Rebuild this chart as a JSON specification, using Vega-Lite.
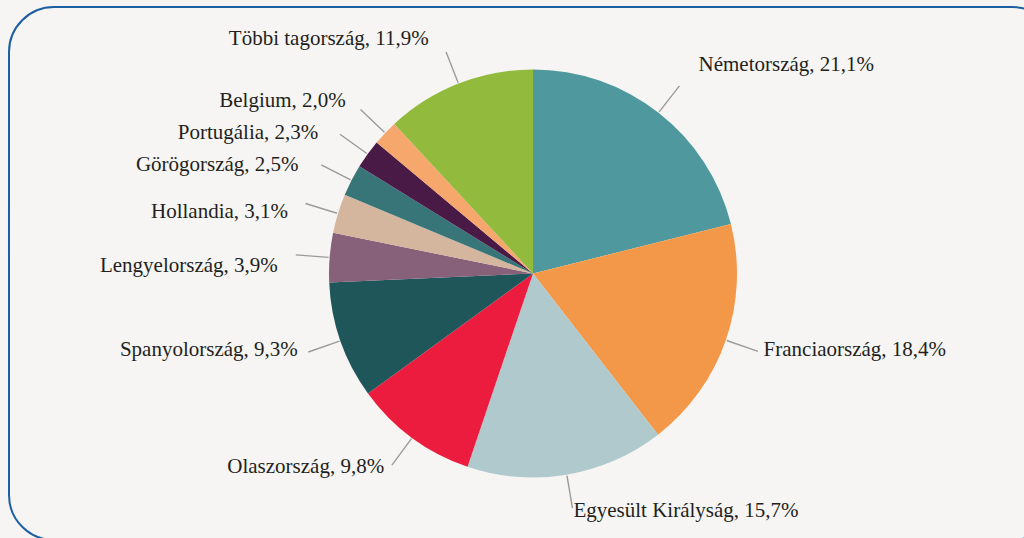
{
  "$schema": "https://vega.github.io/schema/vega-lite/v6.json",
  "autosize": {"type": "none"},
  "width": 1048,
  "height": 533,
  "padding": {"left": 9, "top": 7, "right": -33, "bottom": -2},
  "background": "#f6f5f3",
  "view": {"style": "cell", "stroke": "#1c5fa2", "strokeWidth": 2, "cornerRadius": 45, "fill": "#f6f5f3"},
  "config": {
    "style": {"cell": {"stroke": "#1c5fa2", "strokeWidth": 2, "cornerRadius": 45, "fill": "#f6f5f3"}},
    "text": {"font": "Liberation Serif", "fontSize": 21, "fill": "#231f20"}
  },
  "data": {
    "values": [
      {"orszag": "Németország", "ertek": 21.1, "sorrend": 1, "label": "Németország, 21,1%"},
      {"orszag": "Franciaország", "ertek": 18.4, "sorrend": 2, "label": "Franciaország, 18,4%"},
      {"orszag": "Egyesült Királyság", "ertek": 15.7, "sorrend": 3, "label": "Egyesült Királyság, 15,7%"},
      {"orszag": "Olaszország", "ertek": 9.8, "sorrend": 4, "label": "Olaszország, 9,8%"},
      {"orszag": "Spanyolország", "ertek": 9.3, "sorrend": 5, "label": "Spanyolország, 9,3%"},
      {"orszag": "Lengyelország", "ertek": 3.9, "sorrend": 6, "label": "Lengyelország, 3,9%"},
      {"orszag": "Hollandia", "ertek": 3.1, "sorrend": 7, "label": "Hollandia, 3,1%"},
      {"orszag": "Görögország", "ertek": 2.5, "sorrend": 8, "label": "Görögország, 2,5%"},
      {"orszag": "Portugália", "ertek": 2.3, "sorrend": 9, "label": "Portugália, 2,3%"},
      {"orszag": "Belgium", "ertek": 2.0, "sorrend": 10, "label": "Belgium, 2,0%"},
      {"orszag": "Többi tagország", "ertek": 11.9, "sorrend": 11, "label": "Többi tagország, 11,9%"}
    ]
  },
  "encoding": {
    "theta": {"field": "ertek", "type": "quantitative", "stack": true},
    "order": {"field": "sorrend", "type": "quantitative"}
  },
  "layer": [
    {
      "mark": {"type": "arc", "outerRadius": 204},
      "encoding": {
        "color": {
          "field": "orszag",
          "type": "nominal",
          "legend": null,
          "scale": {
            "domain": ["Németország", "Franciaország", "Egyesült Királyság", "Olaszország", "Spanyolország", "Lengyelország", "Hollandia", "Görögország", "Portugália", "Belgium", "Többi tagország"],
            "range": ["#4f999e", "#f39848", "#b0c9cc", "#ec1c3e", "#1f565a", "#87607a", "#d4b59d", "#377579", "#4a1a47", "#f5a76c", "#92bb3d"]
          }
        }
      }
    },
    {
      "mark": {"type": "arc", "outerRadius": 238, "innerRadius": 205, "padAngle": 1.2, "fillOpacity": 0, "stroke": "#9b9b9b", "strokeWidth": 1.4},
      "encoding": {"detail": {"field": "orszag", "type": "nominal"}}
    },
    {
      "mark": {"type": "text", "radius": 256, "align": "left", "baseline": "middle", "dx": 8, "dy": -7},
      "encoding": {
        "detail": {"field": "orszag", "type": "nominal"},
        "text": {"condition": {"test": "datum.sorrend == 1", "field": "label"}, "value": ""}
      }
    },
    {
      "mark": {"type": "text", "radius": 244, "align": "left", "baseline": "middle", "dx": 0, "dy": -3},
      "encoding": {
        "detail": {"field": "orszag", "type": "nominal"},
        "text": {"condition": {"test": "datum.sorrend == 2 || datum.sorrend == 3", "field": "label"}, "value": ""}
      }
    },
    {
      "mark": {"type": "text", "radius": 246, "align": "right", "baseline": "middle", "dx": -3, "dy": -5},
      "encoding": {
        "detail": {"field": "orszag", "type": "nominal"},
        "text": {"condition": {"test": "datum.sorrend == 4 || datum.sorrend == 5", "field": "label"}, "value": ""}
      }
    },
    {
      "mark": {"type": "text", "radius": 250, "align": "right", "baseline": "middle", "dx": -6, "dy": 12},
      "encoding": {
        "detail": {"field": "orszag", "type": "nominal"},
        "text": {"condition": {"test": "datum.sorrend == 6 || datum.sorrend == 7", "field": "label"}, "value": ""}
      }
    },
    {
      "mark": {"type": "text", "radius": 250, "align": "right", "baseline": "middle", "dx": -12, "dy": 6},
      "encoding": {
        "detail": {"field": "orszag", "type": "nominal"},
        "text": {"condition": {"test": "datum.sorrend == 8 || datum.sorrend == 9", "field": "label"}, "value": ""}
      }
    },
    {
      "mark": {"type": "text", "radius": 250, "align": "right", "baseline": "middle", "dx": -6},
      "encoding": {
        "detail": {"field": "orszag", "type": "nominal"},
        "text": {"condition": {"test": "datum.sorrend == 10", "field": "label"}, "value": ""}
      }
    },
    {
      "mark": {"type": "text", "radius": 250, "align": "right", "baseline": "middle", "dx": -13, "dy": -2},
      "encoding": {
        "detail": {"field": "orszag", "type": "nominal"},
        "text": {"condition": {"test": "datum.sorrend == 11", "field": "label"}, "value": ""}
      }
    }
  ]
}
